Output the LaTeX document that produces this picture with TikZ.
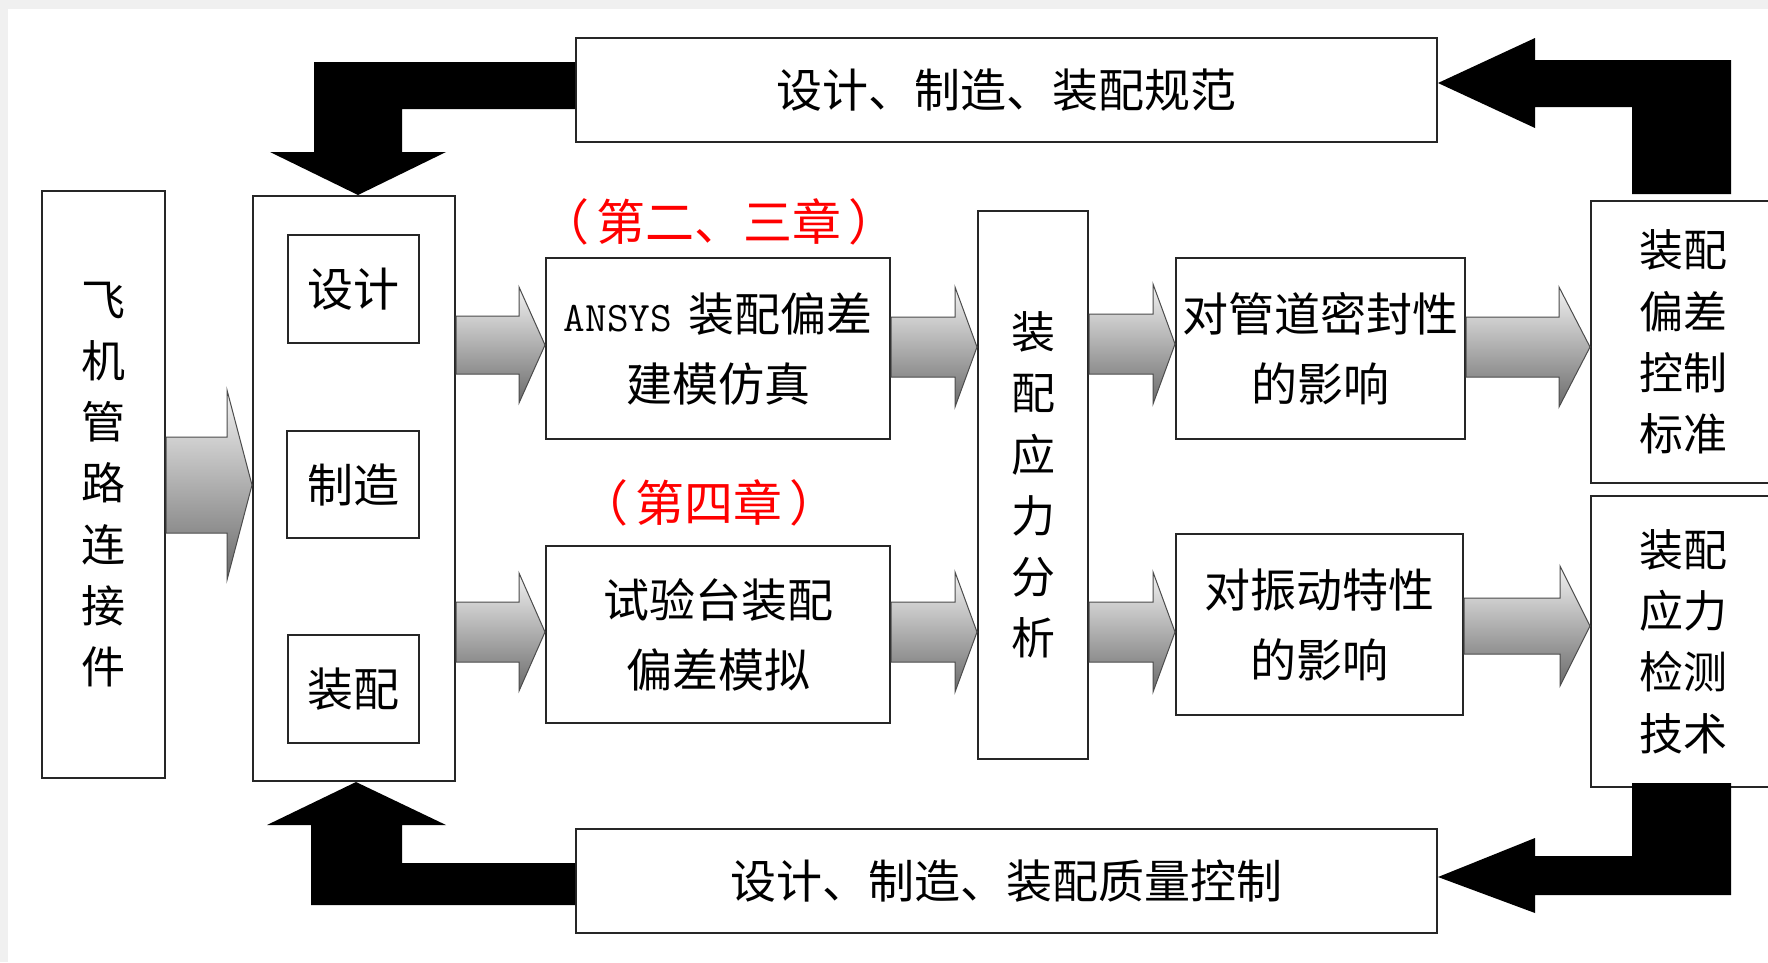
\documentclass[tikz,border=0pt]{standalone}
\usepackage{fontspec}
\newfontfamily\cjk{Noto Sans CJK SC}
\usetikzlibrary{calc}
\newcommand\garrow[6]{%
  \shade[garrowstyle] (#1 |- 0,{#3-#4}) -- ($(#2 |- 0,{#3-#4})+(-#6,0)$) -- ($(#2 |- 0,{#3-#5})+(-#6,0)$) -- (#2 |- 0,#3) -- ($(#2 |- 0,{#3+#5})+(-#6,0)$) -- ($(#2 |- 0,{#3+#4})+(-#6,0)$) -- (#1 |- 0,{#3+#4}) -- cycle;}
\begin{document}
\begin{tikzpicture}[x=1pt,y=-1pt,
  box/.style={draw=black!85,line width=2pt,fill=white,inner sep=0pt,align=center,font=\cjk\fontsize{46}{70}\selectfont},
  vbox/.style={box,font=\cjk\fontsize{44}{61.3}\selectfont},
  redlab/.style={text=red,font=\cjk\fontsize{49}{60}\selectfont,inner sep=0pt},
  garrowstyle/.style={top color=black!5,bottom color=black!58,draw=black!70,line width=1pt},
  barrow/.style={fill=black}]
\useasboundingbox (0,0) rectangle (1768,962);
\fill[white] (0,0) rectangle (1768,962);
\fill[black!6] (0,0) rectangle (1768,9);
\fill[black!6] (0,0) rectangle (8,962);
% boxes
\node[vbox,minimum width=123,minimum height=587] (pipe) at (103.5,484.5) {飞\\机\\管\\路\\连\\接\\件};
\node[box,minimum width=202,minimum height=585] (cont) at (354,488.5) {};
\node[box,minimum width=131,minimum height=108] (design) at (353.5,289) {设计};
\node[box,minimum width=132,minimum height=107] (manuf) at (353,484.5) {制造};
\node[box,minimum width=131,minimum height=108] (assem) at (353.5,689) {装配};
\node[box,minimum width=344,minimum height=181] (ansys) at (718,348.5) {{\ttfamily\fontsize{42}{70}\selectfont ANSYS}\hspace{16pt}装配偏差\\建模仿真};
\node[box,minimum width=344,minimum height=177] (test) at (718,634.5) {试验台装配\\偏差模拟};
\node[vbox,minimum width=110,minimum height=548] (stress) at (1033,485) {装\\配\\应\\力\\分\\析};
\node[box,minimum width=289,minimum height=181] (seal) at (1320.5,348.5) {对管道密封性\\的影响};
\node[box,minimum width=287,minimum height=181] (vib) at (1319.5,624.5) {对振动特性\\的影响};
\node[vbox,minimum width=184,minimum height=282] (std) at (1683,342) {装配\\偏差\\控制\\标准};
\node[vbox,minimum width=184,minimum height=291] (tech) at (1683,641.5) {装配\\应力\\检测\\技术};
\node[box,minimum width=861,minimum height=104] (norm) at (1006.5,90) {设计、制造、装配规范};
\node[box,minimum width=861,minimum height=104] (qual) at (1006.5,881) {设计、制造、装配质量控制};
\node[redlab] (ch23) at (719,222) {（\hspace{7pt}第二、三章\hspace{7pt}）};
\node[redlab] (ch4) at (709,503) {（\hspace{7pt}第四章\hspace{7pt}）};
% gray block arrows
\garrow{pipe.east}{cont.west}{485}{48}{95}{25}
\garrow{cont.east}{ansys.west}{345}{29}{58}{26}
\garrow{cont.east}{test.west}{632}{30}{59}{26}
\garrow{ansys.east}{stress.west}{347}{30}{60}{22}
\garrow{test.east}{stress.west}{632}{30}{60}{22}
\garrow{stress.east}{seal.west}{344}{30}{60}{22}
\garrow{stress.east}{vib.west}{632}{30}{60}{22}
\garrow{seal.east}{std.west}{347}{30}{60}{31}
\garrow{vib.east}{tech.west}{626}{28}{60}{30}
% black bent arrows
\fill[barrow] (norm.west |- 0,62) -- (314,62) -- (314,152) -- (270,152) -- (cont.north -| 358,0) -- (446,152) -- (402,152) -- (402,109) -- (norm.west |- 0,109) -- cycle;
\fill[barrow] ($(std.north -| 1632,0)+(0,-6)$) -- (1632,107) -- (1535,107) -- (1535,128) -- (norm.east |- 0,83) -- (1535,38) -- (1535,60) -- (1731,60) -- ($(std.north -| 1731,0)+(0,-6)$) -- cycle;
\fill[barrow] ($(tech.south -| 1632,0)+(0,-5)$) -- ($(tech.south -| 1731,0)+(0,-5)$) -- (1731,895) -- (1535,895) -- (1535,913) -- (qual.east |- 0,877) -- (1535,838) -- (1535,856) -- (1632,856) -- cycle;
\fill[barrow] (qual.west |- 0,863) -- (qual.west |- 0,905) -- (311,905) -- (311,825) -- (267,825) -- (cont.south -| 356,0) -- (446,825) -- (402,825) -- (402,863) -- cycle;
\end{tikzpicture}
\end{document}
